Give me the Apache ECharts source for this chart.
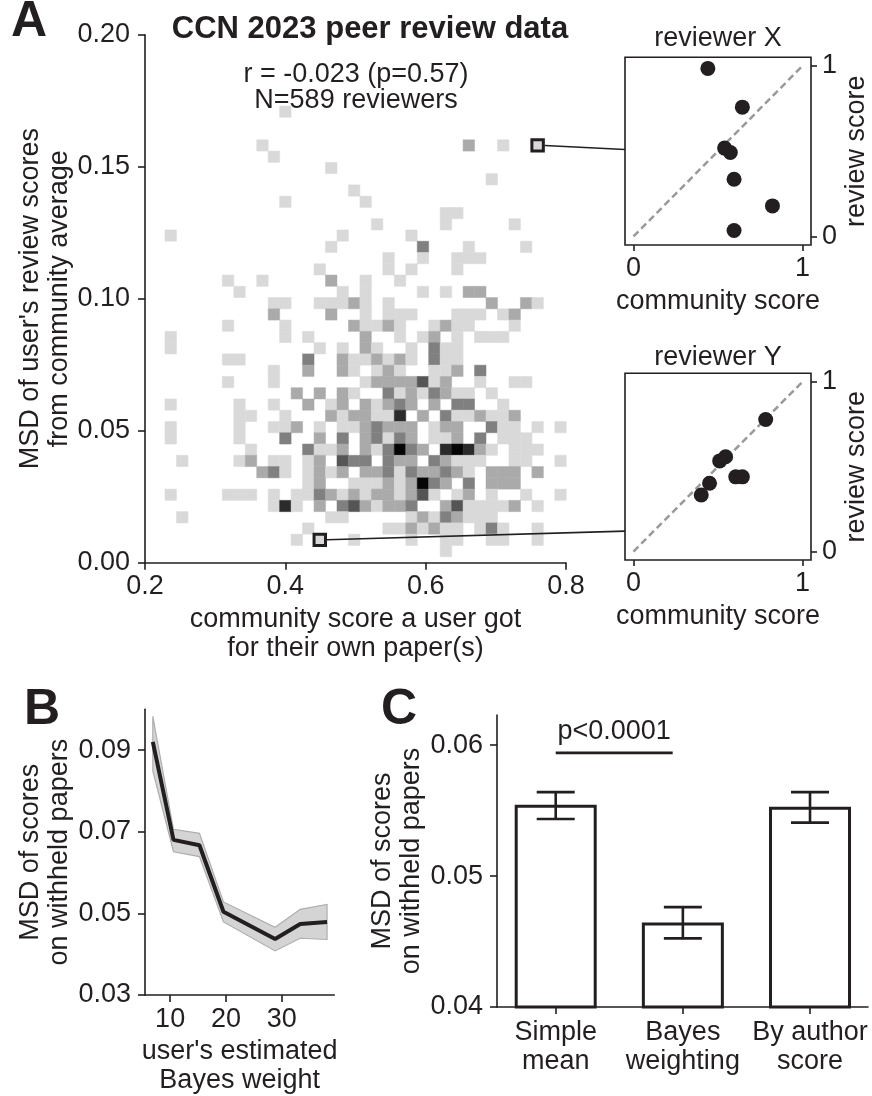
<!DOCTYPE html>
<html>
<head>
<meta charset="utf-8">
<script src="https://cdn.jsdelivr.net/npm/echarts@6.0.0/dist/echarts.min.js"></script>
<style>
html,body{margin:0;padding:0;background:#ffffff;}
#chart{width:872px;height:1096px;}
</style>
</head>
<body>
<div id="chart"></div>
<script>
// ---------------- Panel A: 2D histogram of reviewers ----------------
// bin geometry (data units)
const HEAT_X0 = 0.2285;   // left edge of first community-score bin
const HEAT_DX = 0.01634;  // bin width
const HEAT_Y0 = 0.00227;  // bottom edge of first MSD bin
const HEAT_DY = 0.004268; // bin height
// counts per bin (0 = empty); rows listed from top (highest MSD) to bottom
const HEAT_ROWS = [
  '00000 00000 10000 00000 00000 00000 00000',
  '00000 00000 00000 00000 00000 00000 00000',
  '00000 00000 00000 00000 00000 00000 00000',
  '00000 00010 00000 00000 00000 02001 00100',
  '00000 00001 00000 00000 00000 00000 00000',
  '00000 00000 00001 00000 00000 00000 00000',
  '00000 00000 00000 00000 00000 00010 00000',
  '00000 00000 00000 01000 00000 00000 00000',
  '00000 00000 10000 00100 00000 00000 00000',
  '00000 00000 00000 00000 00001 10000 00000',
  '00000 00000 00000 00010 00001 00000 10000',
  '10000 00000 00000 10000 01000 00000 00000',
  '00000 00000 00001 00000 00300 01000 01000',
  '00000 00000 00000 00001 00100 11100 00000',
  '00000 00000 00010 00001 01000 10000 00000',
  '00000 10010 00002 00100 10000 00000 00000',
  '00000 01000 00000 10100 00101 02200 00000',
  '00000 00001 10011 12101 00000 00020 02100',
  '00000 00002 00002 00101 11000 11101 20000',
  '00000 10000 10000 02112 10012 11000 10000',
  '10000 00000 10100 00200 10120 10111 00000',
  '10000 00000 00010 10210 01031 10000 00000',
  '00000 11000 00300 21121 21031 10000 00000',
  '00000 00001 00200 21012 10011 20300 00000',
  '00000 10001 00000 00122 22412 00100 11000',
  '00000 00000 02020 21003 12132 11010 00000',
  '10000 01001 00201 20212 32020 33001 00000',
  '00000 01100 10002 12211 50203 11211 20000',
  '10000 01001 12010 11232 22012 20031 10101',
  '10000 01000 30020 30231 32011 20301 11000',
  '00000 00100 00311 20213 63205 65210 11100',
  '01000 01201 10120 43303 22032 11100 11001',
  '00000 00023 10121 20223 13223 21022 20200',
  '00000 00000 00120 01112 12632 03022 20000',
  '10000 11101 01132 12122 12410 12010 01001',
  '00000 00001 51020 34212 23002 41111 20100',
  '01000 00000 00001 10000 01213 21110 00000',
  '00000 00000 00100 00001 12121 10131 00100',
  '00000 00000 01010 01000 01001 10011 00100',
  '00000 00000 00000 00000 00001 00000 00000'
];
const HIGHLIGHT_CELLS = [[32, 36], [13, 1]]; // [column,row] for reviewer X, reviewer Y
const LINK_Y = [0.51, 0.12];                 // where connector meets each inset (review score units)
const A_X_RANGE = [0.2, 0.8];
const A_Y_RANGE = [0, 0.2];
const A_TITLE = 'CCN 2023 peer review data';
const A_STATS = ['r = -0.023 (p=0.57)', 'N=589 reviewers'];

// ---------------- Insets ----------------
const REVIEWER_X_COMMUNITY = [0.44, 0.644, 0.539, 0.573, 0.595, 0.822, 0.595];
const REVIEWER_X_REVIEW    = [0.985, 0.758, 0.518, 0.492, 0.335, 0.179, 0.035];
const REVIEWER_Y_COMMUNITY = [0.782, 0.545, 0.51, 0.45, 0.401, 0.605, 0.644];
const REVIEWER_Y_REVIEW    = [0.778, 0.558, 0.534, 0.402, 0.333, 0.44, 0.44];
const IDENTITY_LINE = [[0, 0], [1, 1]];
const INSET_TICKS = [0, 1];

// ---------------- Panel B ----------------
const B_WEIGHT = [6.9, 10.6, 15.25, 19.55, 28.8, 33.3, 38.1];
const B_MSD    = [0.0920, 0.0680, 0.0667, 0.0504, 0.0437, 0.0474, 0.0479];
const B_LOW    = [0.0849, 0.0651, 0.0639, 0.0479, 0.0408, 0.0439, 0.0436];
const B_HIGH   = [0.0983, 0.0706, 0.0696, 0.0528, 0.0466, 0.0510, 0.0522];
const B_X_TICKS = [10, 20, 30];
const B_Y_TICKS = [0.03, 0.05, 0.07, 0.09];

// ---------------- Panel C ----------------
const C_LABELS   = ['Simple\nmean', 'Bayes\nweighting', 'By author\nscore'];
const C_POS      = [0, 1, 2];
const C_MSD      = [0.05544, 0.04646, 0.05529];
const C_ERR_LOW  = [0.05436, 0.04524, 0.05408];
const C_ERR_HIGH = [0.05641, 0.04763, 0.05641];
const C_Y_TICKS  = [0.04, 0.05, 0.06];
const C_SIG = { from: 0, to: 0.92, y: 0.0594, text: 'p<0.0001' };

// ---------------- styling ----------------
const FONT = "'Liberation Sans', Arial, Helvetica, sans-serif";
const INK = '#231f20';
const LEVEL_COLORS = ['#d9d9d9', '#aaaaaa', '#808080', '#555555', '#2b2b2b', '#050505'];
const FS = 27;

// build heat data
const heatData = [];
HEAT_ROWS.forEach(function (s, i) {
  const row = HEAT_ROWS.length - 1 - i;
  s.replace(/ /g, '').split('').forEach(function (ch, col) {
    const v = +ch;
    if (v > 0) heatData.push([HEAT_X0 + col * HEAT_DX, HEAT_Y0 + row * HEAT_DY, v]);
  });
});
const highlightData = HIGHLIGHT_CELLS.map(function (c) {
  return [HEAT_X0 + c[0] * HEAT_DX, HEAT_Y0 + c[1] * HEAT_DY];
});

function lab(extra) {
  return Object.assign({ color: INK, fontSize: FS, fontFamily: FONT }, extra || {});
}
function axis(o) {
  const base = {
    type: 'value',
    splitLine: { show: false },
    axisLine: { show: true, onZero: false, lineStyle: { color: INK, width: 1.6 } },
    axisTick: { show: true, length: 7, lineStyle: { color: INK, width: 1.6 } },
    nameLocation: 'middle',
    nameTextStyle: lab({ lineHeight: 29 })
  };
  const out = Object.assign(base, o);
  if (o.axisTick) out.axisTick = Object.assign({ show: true, length: 7, lineStyle: { color: INK, width: 1.6 } }, o.axisTick);
  if (o.axisLine) out.axisLine = Object.assign({ show: true, onZero: false, lineStyle: { color: INK, width: 1.6 } }, o.axisLine);
  return out;
}

function cellRect(api, x, y) {
  const tl = api.coord([x, y + HEAT_DY]);
  const br = api.coord([x + HEAT_DX, y]);
  return { x: tl[0], y: tl[1], width: br[0] - tl[0], height: br[1] - tl[1] };
}

const option = {
  animation: false,
  backgroundColor: '#ffffff',
  grid: [
    { left: 145, top: 34.7, width: 421, height: 528 },
    { left: 625, top: 57.3, width: 186.7, height: 187.7, show: true, borderColor: INK, borderWidth: 1.6, backgroundColor: 'transparent' },
    { left: 625, top: 373.3, width: 186.7, height: 186.7, show: true, borderColor: INK, borderWidth: 1.6, backgroundColor: 'transparent' },
    { left: 145, top: 709.3, width: 189.3, height: 285.7 },
    { left: 497, top: 715, width: 371, height: 292 }
  ],
  xAxis: [
    axis({ gridIndex: 0, min: A_X_RANGE[0], max: A_X_RANGE[1], interval: 0.2,
      axisLabel: lab({ margin: 10, formatter: function (v) { return v.toFixed(1); } }),
      name: 'community score a user got\nfor their own paper(s)', nameGap: 42 }),
    axis({ gridIndex: 1, min: -0.05, max: 1.05, axisLine: { show: false },
      axisTick: { customValues: INSET_TICKS, length: 6 },
      axisLabel: lab({ customValues: INSET_TICKS, margin: 10 }),
      name: 'community score', nameGap: 42 }),
    axis({ gridIndex: 2, min: -0.05, max: 1.05, axisLine: { show: false },
      axisTick: { customValues: INSET_TICKS, length: 6 },
      axisLabel: lab({ customValues: INSET_TICKS, margin: 10 }),
      name: 'community score', nameGap: 42 }),
    axis({ gridIndex: 3, min: 5.5, max: 39.4,
      axisTick: { customValues: B_X_TICKS },
      axisLabel: lab({ customValues: B_X_TICKS, margin: 11 }),
      name: "user's estimated\nBayes weight", nameGap: 42 }),
    axis({ gridIndex: 4, min: -0.4617, max: 2.456,
      axisTick: { customValues: C_POS },
      axisLabel: lab({ customValues: C_POS, margin: 11, lineHeight: 29,
        formatter: function (v) { return C_LABELS[Math.round(v)]; } }) })
  ],
  yAxis: [
    axis({ gridIndex: 0, min: A_Y_RANGE[0], max: A_Y_RANGE[1], interval: 0.05,
      axisLabel: lab({ margin: 15, formatter: function (v) { return v.toFixed(2); } }),
      name: "MSD of user's review scores\nfrom community average", nameGap: 65, nameRotate: 90 }),
    axis({ gridIndex: 1, position: 'right', min: -0.05, max: 1.05, axisLine: { show: false },
      axisTick: { customValues: INSET_TICKS, length: 6 },
      axisLabel: lab({ customValues: INSET_TICKS, margin: 11 }),
      name: 'review score', nameGap: 31, nameRotate: 90 }),
    axis({ gridIndex: 2, position: 'right', min: -0.05, max: 1.05, axisLine: { show: false },
      axisTick: { customValues: INSET_TICKS, length: 6 },
      axisLabel: lab({ customValues: INSET_TICKS, margin: 11 }),
      name: 'review score', nameGap: 31, nameRotate: 90 }),
    axis({ gridIndex: 3, min: 0.03, max: 0.1,
      axisTick: { customValues: B_Y_TICKS },
      axisLabel: lab({ customValues: B_Y_TICKS, margin: 14, formatter: function (v) { return v.toFixed(2); } }),
      name: 'MSD of scores\non withheld papers', nameGap: 71, nameRotate: 90 }),
    axis({ gridIndex: 4, min: 0.04, max: 0.0623,
      axisTick: { customValues: C_Y_TICKS },
      axisLabel: lab({ customValues: C_Y_TICKS, margin: 14, formatter: function (v) { return v.toFixed(2); } }),
      name: 'MSD of scores\non withheld papers', nameGap: 71, nameRotate: 90 })
  ],
  series: [
    { type: 'custom', xAxisIndex: 0, yAxisIndex: 0, data: heatData, z: 2,
      renderItem: function (params, api) {
        const lvl = api.value(2);
        const c = LEVEL_COLORS[Math.min(lvl, LEVEL_COLORS.length) - 1];
        return { type: 'rect', shape: cellRect(api, api.value(0), api.value(1)),
          style: { fill: c, stroke: c, lineWidth: 0.5 } };
      } },
    { type: 'custom', xAxisIndex: 0, yAxisIndex: 0, data: highlightData, z: 5,
      renderItem: function (params, api) {
        return { type: 'rect', shape: cellRect(api, api.value(0), api.value(1)),
          style: { fill: '#d9d9d9', stroke: INK, lineWidth: 3 } };
      } },
    { type: 'line', xAxisIndex: 1, yAxisIndex: 1, data: IDENTITY_LINE, symbol: 'none', z: 2,
      lineStyle: { color: '#999999', width: 2.5, type: [7, 4] } },
    { type: 'scatter', xAxisIndex: 1, yAxisIndex: 1, symbolSize: 15, z: 3,
      itemStyle: { color: INK, opacity: 1 },
      data: REVIEWER_X_COMMUNITY.map(function (c, i) { return [c, REVIEWER_X_REVIEW[i]]; }) },
    { type: 'line', xAxisIndex: 2, yAxisIndex: 2, data: IDENTITY_LINE, symbol: 'none', z: 2,
      lineStyle: { color: '#999999', width: 2.5, type: [7, 4] } },
    { type: 'scatter', xAxisIndex: 2, yAxisIndex: 2, symbolSize: 15, z: 3,
      itemStyle: { color: INK, opacity: 1 },
      data: REVIEWER_Y_COMMUNITY.map(function (c, i) { return [c, REVIEWER_Y_REVIEW[i]]; }) },
    { type: 'custom', xAxisIndex: 3, yAxisIndex: 3, data: [[B_WEIGHT[0], B_MSD[0]]], z: 1,
      renderItem: function (params, api) {
        const pts = [];
        B_WEIGHT.forEach(function (w, i) { pts.push(api.coord([w, B_HIGH[i]])); });
        for (let i = B_WEIGHT.length - 1; i >= 0; i--) pts.push(api.coord([B_WEIGHT[i], B_LOW[i]]));
        return { type: 'polygon', shape: { points: pts },
          style: { fill: '#d4d4d4', stroke: '#adadad', lineWidth: 1.2 } };
      } },
    { type: 'line', xAxisIndex: 3, yAxisIndex: 3, symbol: 'none', z: 3,
      lineStyle: { color: INK, width: 4 },
      data: B_WEIGHT.map(function (w, i) { return [w, B_MSD[i]]; }) },
    { type: 'bar', xAxisIndex: 4, yAxisIndex: 4, barWidth: 82, z: 2,
      itemStyle: { color: '#ffffff', borderColor: INK, borderWidth: 3 },
      data: C_POS.map(function (p, i) { return [p, C_MSD[i]]; }) },
    { type: 'custom', xAxisIndex: 4, yAxisIndex: 4, z: 4,
      data: C_POS.map(function (p, i) { return [p, C_ERR_LOW[i], C_ERR_HIGH[i]]; }),
      renderItem: function (params, api) {
        const x = api.value(0);
        const lo = api.coord([x, api.value(1)]);
        const hi = api.coord([x, api.value(2)]);
        const half = 19;
        const st = { stroke: INK, lineWidth: 2.6 };
        return { type: 'group', children: [
          { type: 'line', shape: { x1: lo[0], y1: lo[1], x2: hi[0], y2: hi[1] }, style: st },
          { type: 'line', shape: { x1: lo[0] - half, y1: lo[1], x2: lo[0] + half, y2: lo[1] }, style: st },
          { type: 'line', shape: { x1: hi[0] - half, y1: hi[1], x2: hi[0] + half, y2: hi[1] }, style: st }
        ] };
      } },
    { type: 'custom', xAxisIndex: 4, yAxisIndex: 4, z: 4,
      data: [[C_SIG.from, C_SIG.to, C_SIG.y]],
      renderItem: function (params, api) {
        const a = api.coord([api.value(0), api.value(2)]);
        const b = api.coord([api.value(1), api.value(2)]);
        return { type: 'group', children: [
          { type: 'line', shape: { x1: a[0], y1: a[1], x2: b[0], y2: b[1] }, style: { stroke: INK, lineWidth: 2.8 } },
          { type: 'text', x: (a[0] + b[0]) / 2, y: a[1] - 21,
            style: { text: C_SIG.text, fill: INK, fontSize: FS, fontFamily: FONT, align: 'center', verticalAlign: 'middle' } }
        ] };
      } }
  ]
};

const chart = echarts.init(document.getElementById('chart'), null, { renderer: 'canvas' });
chart.setOption(option);

function txt(x, y, text, size, weight) {
  return { type: 'text', x: x, y: y, z: 20,
    style: { text: text, fill: INK, fontSize: size, fontWeight: weight || 'normal', fontFamily: FONT,
      align: 'center', verticalAlign: 'middle' } };
}
const gfx = [
  txt(29, 22, 'A', 50, 'bold'),
  txt(42, 710, 'B', 50, 'bold'),
  txt(399, 710, 'C', 50, 'bold'),
  txt(370, 29, A_TITLE, 31, 'bold'),
  txt(356, 75, A_STATS[0], FS),
  txt(356, 101, A_STATS[1], FS),
  txt(718, 39, 'reviewer X', FS),
  txt(718, 358, 'reviewer Y', FS)
];
HIGHLIGHT_CELLS.forEach(function (cell, i) {
  const p0 = chart.convertToPixel({ gridIndex: 0 }, [HEAT_X0 + (cell[0] + 1) * HEAT_DX, HEAT_Y0 + (cell[1] + 0.5) * HEAT_DY]);
  const p1 = chart.convertToPixel({ gridIndex: i + 1 }, [-0.05, LINK_Y[i]]);
  gfx.push({ type: 'line', z: 20, shape: { x1: p0[0] + 1.5, y1: p0[1], x2: p1[0], y2: p1[1] },
    style: { stroke: INK, lineWidth: 1.6 } });
});
chart.setOption({ graphic: gfx });
</script>
</body>
</html>
